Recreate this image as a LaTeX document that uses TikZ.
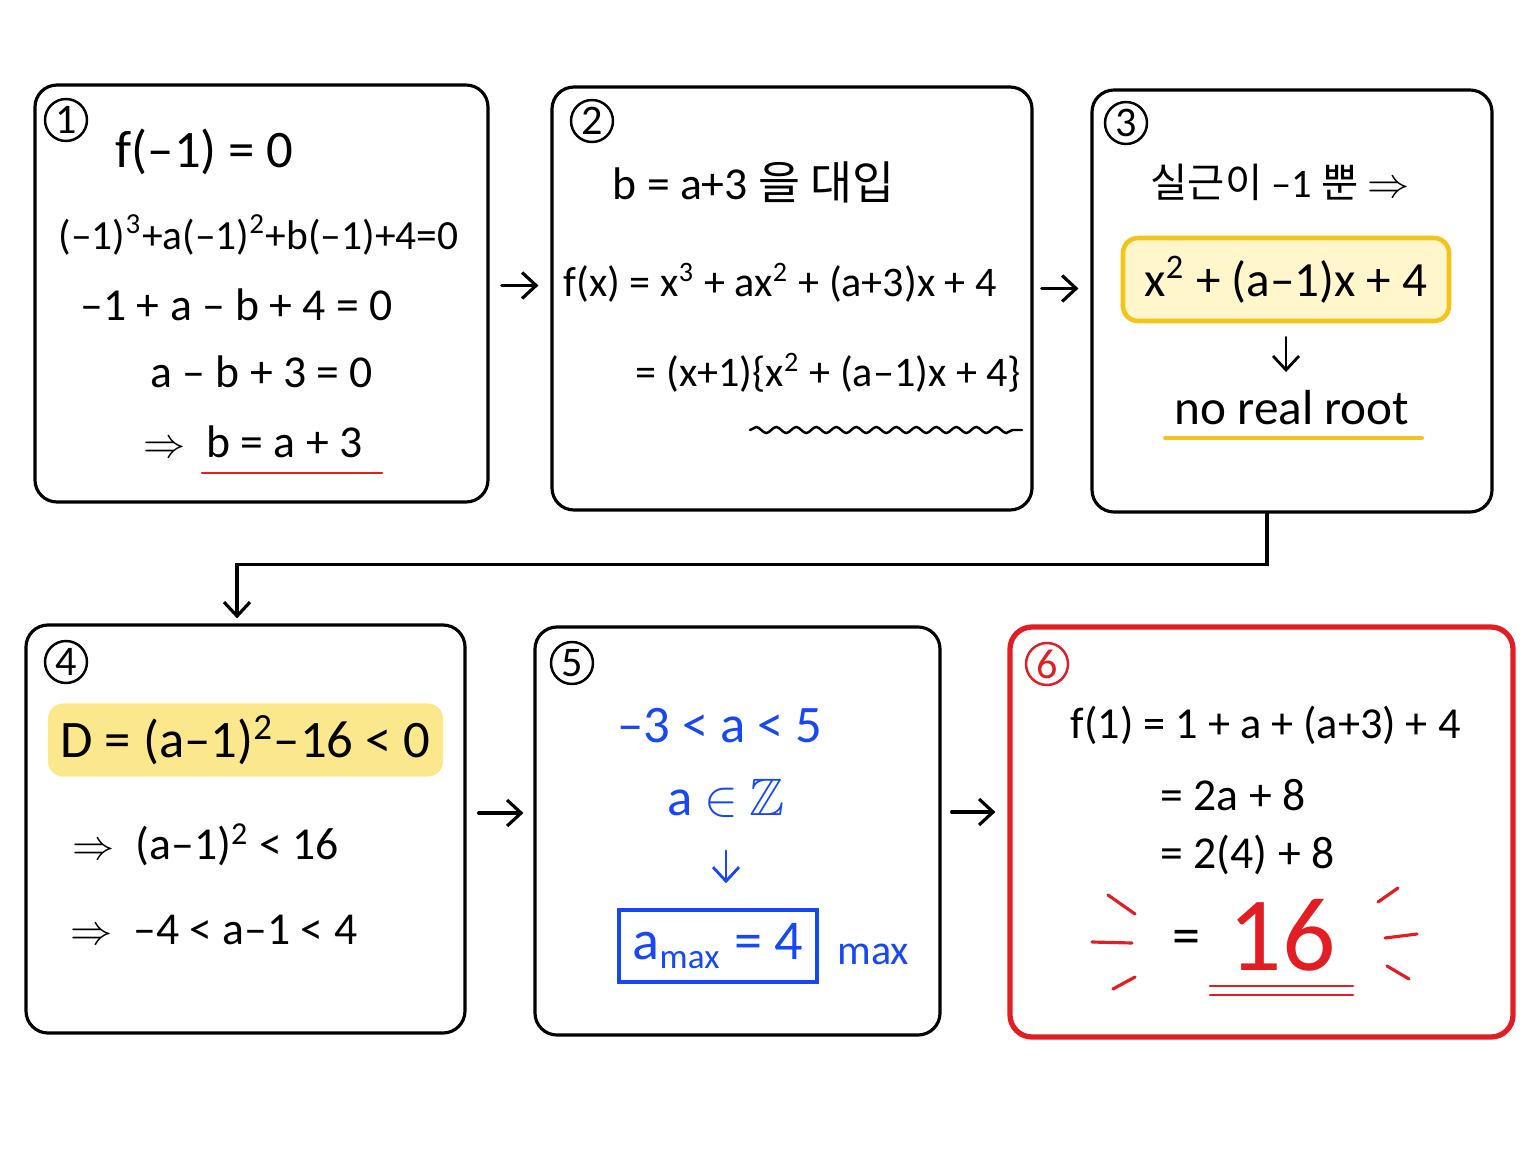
\documentclass[tikz,border=0pt]{standalone}
\usepackage{fontspec}
\usepackage{amssymb}
\setmainfont{Carlito}
\newfontfamily\kr{Noto Sans CJK KR}
\usetikzlibrary{arrows.meta,positioning,decorations.pathmorphing}
\definecolor{inkred}{RGB}{226,30,36}
\definecolor{inkblue}{RGB}{22,72,245}
\definecolor{hlyellow}{RGB}{251,231,140}
\definecolor{boxyellow}{RGB}{255,246,204}
\definecolor{lineyellow}{RGB}{244,196,24}
\newcommand\pts[1]{\fontsize{#1}{#1}\selectfont}
\tikzset{
  box/.style={draw, line width=0.9pt, rounded corners=0.22cm, inner sep=0},
  numc/.style={draw, circle, line width=0.7pt, inner sep=0, minimum size=0.42cm, font=\pts{12}},
  txt/.style={inner sep=0, anchor=west, font=\pts{13}},
}
\begin{document}
\begin{tikzpicture}[>={Straight Barb[length=1.4mm,width=2.6mm]}, line cap=round]
\useasboundingbox (0,0) rectangle (15.36,-11.52);

\node[box, minimum width=4.53cm, minimum height=4.17cm] (b1) at (2.615,-2.935) {};
\node[box, minimum width=4.80cm, minimum height=4.23cm] (b2) at (7.92,-2.985) {};
\node[box, minimum width=4.00cm, minimum height=4.22cm] (b3) at (12.92,-3.01) {};
\node[box, minimum width=4.39cm, minimum height=4.08cm] (b4) at (2.455,-8.29) {};
\node[box, minimum width=4.05cm, minimum height=4.08cm] (b5) at (7.375,-8.31) {};
\node[box, draw=inkred, line width=1.5pt, minimum width=5.03cm, minimum height=4.10cm] (b6) at (12.615,-8.32) {};

\node[numc] (n1) at (0.66,-1.20) {1};
\node[txt, font=\pts{15}] (l11) at (1.15,-1.52) {f(–1) = 0};
\node[txt, font=\pts{11.8}] (l12) at (0.58,-2.35) {(–1)\textsuperscript{3}+a(–1)\textsuperscript{2}+b(–1)+4=0};
\node[txt] (l13) at (0.80,-3.05) {–1 + a – b + 4 = 0};
\node[txt] (l14) at (1.50,-3.72) {a – b + 3 = 0};
\node[txt] (l15) at (1.43,-4.42) {$\Rightarrow$\ \ b = a + 3};
\draw[inkred, line width=0.7pt] (2.02,-4.73) -- (3.82,-4.73);

\node[numc] (n2) at (5.92,-1.21) {2};
\node[txt] (l21) at (6.12,-1.82) {b = a+3 {\kr 을 대입}};
\node[txt, font=\pts{12}] (l22) at (5.63,-2.83) {f(x) = x\textsuperscript{3} + ax\textsuperscript{2} + (a+3)x + 4};
\node[txt, font=\pts{12}] (l23) at (6.35,-3.73) {= (x+1)\{x\textsuperscript{2} + (a–1)x + 4\}};
\draw[line width=0.7pt, decorate, decoration={snake, segment length=0.2cm, amplitude=0.03cm}] (7.50,-4.30) -- (10.22,-4.30);

\node[numc] (n3) at (11.26,-1.23) {3};
\node[txt, font=\pts{11.5}] (l31) at (11.50,-1.82) {{\kr 실근이} –1 {\kr 뿐} $\Rightarrow$};
\node[draw=lineyellow, fill=boxyellow, line width=1.3pt, rounded corners=0.15cm, minimum width=3.26cm, minimum height=0.83cm, font=\pts{14}] (yb) at (12.86,-2.795) {x\textsuperscript{2} + (a–1)x + 4};
\node[inner sep=0, font=\pts{14}] (nr) at (12.92,-4.08) {no real root};
\draw[->, line width=0.8pt, shorten <=0.14cm, shorten >=0.18cm] (yb.south) -- (yb.south |- nr.north);
\draw[lineyellow, line width=1.1pt] (11.65,-4.38) -- (14.22,-4.38);

\node[numc] (n4) at (0.66,-6.62) {4};
\node[fill=hlyellow, rounded corners=0.15cm, minimum width=3.95cm, minimum height=0.70cm, font=\pts{15}] (hl) at (2.455,-7.40) {D = (a–1)\textsuperscript{2}–16 < 0};
\node[txt] (l42) at (0.72,-8.45) {$\Rightarrow$\ \ (a–1)\textsuperscript{2} < 16};
\node[txt] (l43) at (0.70,-9.30) {$\Rightarrow$\ \ –4 < a–1 < 4};

\node[numc] (n5) at (5.72,-6.63) {5};
\node[inner sep=0, inkblue, font=\pts{15}] (l51) at (7.20,-7.26) {–3 < a < 5};
\node[inner sep=0, inkblue, font=\pts{15}] (l52) at (7.26,-7.98) {a $\in$ $\mathbb{Z}$};
\node[draw=inkblue, line width=1pt, minimum width=1.98cm, minimum height=0.72cm, inkblue, font=\pts{16}] (am) at (7.18,-9.46) {a\textsubscript{\pts{10}max} = 4};
\draw[->, inkblue, line width=0.8pt, shorten <=0.33cm, shorten >=0.25cm] (l52.south) -- (l52.south |- am.north);
\node[inkblue, inner sep=0, font=\pts{12}, right=0.18cm of am, yshift=-0.08cm] (mx) {max};

\node[numc, draw=inkred, text=inkred] (n6) at (10.47,-6.64) {6};
\node[txt, font=\pts{12.6}] (l61) at (10.70,-7.25) {f(1) = 1 + a + (a+3) + 4};
\node[txt] (l62) at (11.60,-7.95) {= 2a + 8};
\node[txt] (l63) at (11.60,-8.55) {= 2(4) + 8};
\node[txt, font=\pts{16}] (eq) at (11.72,-9.42) {=};
\node[inner sep=0, inkred, font=\pts{30}] (res) at (12.82,-9.35) {16};
\foreach \y in {-9.86,-9.95}
  \draw[inkred, line width=0.8pt] (12.10,\y) -- (13.53,\y);
\foreach \xa/\ya/\xb/\yb in {11.08/-8.95/11.35/-9.14, 10.92/-9.42/11.32/-9.43, 11.13/-9.89/11.35/-9.77,
    13.78/-9.02/13.98/-8.88, 13.85/-9.38/14.17/-9.34, 13.87/-9.66/14.09/-9.79}
  \draw[inkred, line width=0.9pt] (\xa,\ya) -- (\xb,\yb);

\draw[->, line width=0.9pt, shorten <=0.12cm, shorten >=0.12cm] ([yshift=0.08cm]b1.east) -- ([yshift=0.08cm]b1.east -| b2.west);
\draw[->, line width=0.9pt, shorten <=0.08cm, shorten >=0.12cm] ([yshift=0.1cm]b2.east) -- ([yshift=0.1cm]b2.east -| b3.west);
\draw[->, line width=0.9pt, shorten >=0.05cm] ([xshift=-0.25cm]b3.south) -- ++(0,-0.51) -| ([xshift=-0.085cm]b4.north);
\draw[->, line width=0.9pt, shorten <=0.12cm, shorten >=0.1cm] ([yshift=0.16cm]b4.east) -- ([yshift=0.16cm]b4.east -| b5.west);
\draw[->, line width=0.9pt, shorten <=0.1cm, shorten >=0.12cm] ([yshift=0.19cm]b5.east) -- ([yshift=0.19cm]b5.east -| b6.west);

\end{tikzpicture}
\end{document}
